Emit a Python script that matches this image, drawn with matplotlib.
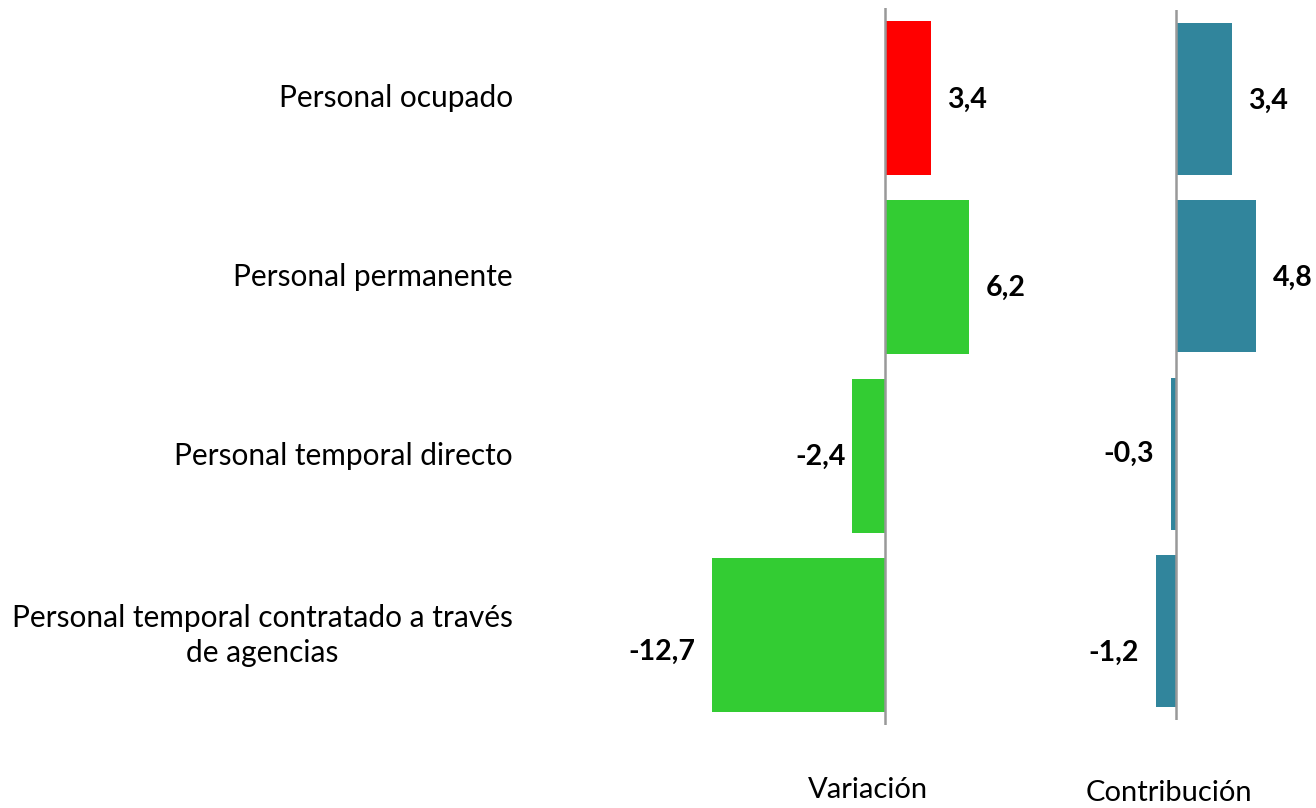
import matplotlib
matplotlib.use("Agg")
import matplotlib.pyplot as plt
from matplotlib.transforms import blended_transform_factory

categories = ["Personal ocupado", "Personal permanente", "Personal temporal directo",
              "Personal temporal contratado a través\nde agencias"]
variacion = [3.4, 6.2, -2.4, -12.7]
contribucion = [3.4, 4.8, -0.3, -1.2]
panel_titles = ["Variación", "Contribución"]

var_colors = ["#FF0000", "#33CC33", "#33CC33", "#33CC33"]
contrib_color = "#31859C"

plt.rcParams['font.family'] = ['Lato', 'DejaVu Sans']

W, H = 1316, 808
fig = plt.figure(figsize=(W / 100, H / 100), dpi=100)

def px_axes(x0, x1, ytop, ybot):
    return fig.add_axes([x0 / W, 1 - ybot / H, (x1 - x0) / W, (ybot - ytop) / H])

# left panel: zero at 885 px, 13.6 px/unit
ax1 = px_axes(700, 1000, 8.4, 725)
ax1.set_xlim((700 - 885) / 13.6, (1000 - 885) / 13.6)
# right panel: zero at 1176 px, 16.6 px/unit
ax2 = px_axes(1100, 1316, 10.3, 719.7)
ax2.set_xlim((1100 - 1176) / 16.6, (1316 - 1176) / 16.6)

ypos = list(range(len(categories)))
ax1.barh(ypos, variacion, height=0.86, color=var_colors, zorder=2)
ax2.barh(ypos, contribucion, height=0.857, color=contrib_color, zorder=2)

for ax in (ax1, ax2):
    ax.set_ylim(len(categories) - 0.5, -0.5)
    ax.axvline(0, color="#999999", lw=1.8, zorder=3)
    for s in ax.spines.values():
        s.set_visible(False)
    ax.set_xticks([])
    ax.set_yticks([])
    ax.patch.set_alpha(0)

def fmt(v):
    return f"{v:.1f}".replace(".", ",")

# label offsets (pixels): horizontal gap and vertical shift
off1 = [(16, 2), (16, 11), (7, 1), (17, 16)]
off2 = [(16, 2), (17, 1.5), (17, 0), (17, 22)]
for ax, vals, offs in ((ax1, variacion, off1), (ax2, contribucion, off2)):
    for i, v in enumerate(vals):
        dx, dy = offs[i]
        ax.annotate(fmt(v), xy=(v, i), xytext=(dx if v >= 0 else -dx, -dy),
                    textcoords="offset pixels", ha="left" if v >= 0 else "right",
                    va="center", fontsize=20.5, fontweight="bold", color="black",
                    annotation_clip=False)

tr = blended_transform_factory(fig.transFigure, ax1.transData)
for i, c in enumerate(categories):
    fig.text(513 / W, i, c, transform=tr, ha="right", va="center",
             multialignment="center", fontsize=21.5, color="black", linespacing=1.3)

fig.text(868 / W, 1 - 790 / H, panel_titles[0], ha="center", va="center", fontsize=21)
fig.text(1169 / W, 1 - 793 / H, panel_titles[1], ha="center", va="center", fontsize=21)

fig.savefig("out.png", dpi=100)
